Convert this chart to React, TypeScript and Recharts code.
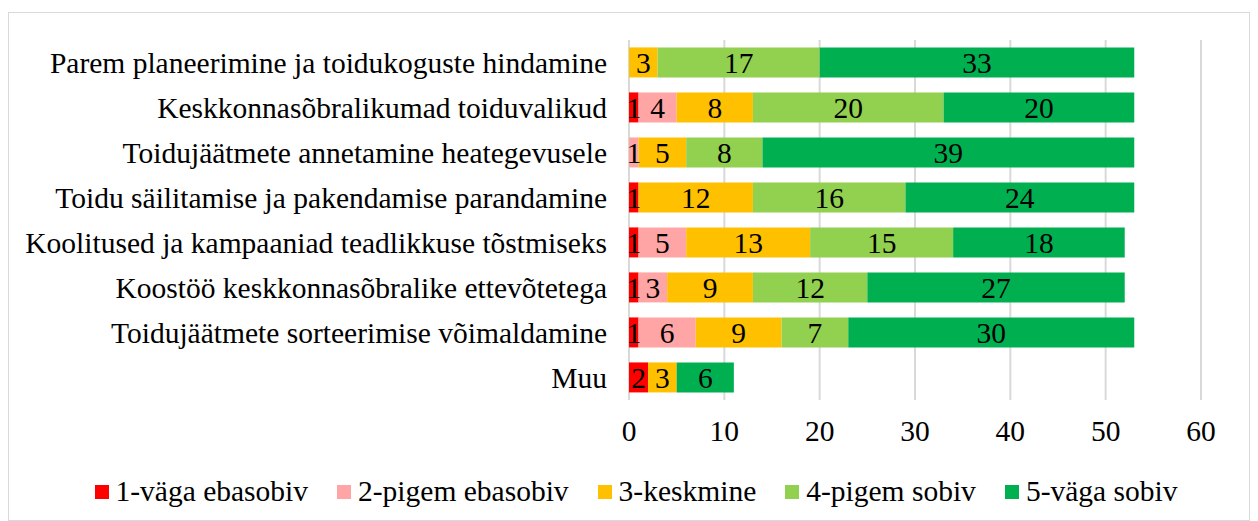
import { BarChart, Bar, XAxis, YAxis, CartesianGrid, LabelList } from 'recharts'

const categories = [
  'Parem planeerimine ja toidukoguste hindamine',
  'Keskkonnasõbralikumad toiduvalikud',
  'Toidujäätmete annetamine heategevusele',
  'Toidu säilitamise ja pakendamise parandamine',
  'Koolitused ja kampaaniad teadlikkuse tõstmiseks',
  'Koostöö keskkonnasõbralike ettevõtetega',
  'Toidujäätmete sorteerimise võimaldamine',
  'Muu',
]

const vaga_ebasobiv = [0, 1, 0, 1, 1, 1, 1, 2]
const pigem_ebasobiv = [0, 4, 1, 0, 5, 3, 6, 0]
const keskmine = [3, 8, 5, 12, 13, 9, 9, 3]
const pigem_sobiv = [17, 20, 8, 16, 15, 12, 7, 0]
const vaga_sobiv = [33, 20, 39, 24, 18, 27, 30, 6]

const xTicks = [0, 10, 20, 30, 40, 50, 60]

const SERIES = [
  { key: 's1', name: '1-väga ebasobiv', color: '#FF0000', values: vaga_ebasobiv },
  { key: 's2', name: '2-pigem ebasobiv', color: '#FFA5A5', values: pigem_ebasobiv },
  { key: 's3', name: '3-keskmine', color: '#FFC000', values: keskmine },
  { key: 's4', name: '4-pigem sobiv', color: '#92D050', values: pigem_sobiv },
  { key: 's5', name: '5-väga sobiv', color: '#00B050', values: vaga_sobiv },
]

const data = categories.map((name, i) => {
  const row: Record<string, string | number> = { name }
  SERIES.forEach(s => { row[s.key] = s.values[i] })
  return row
})

const FONT = '"Liberation Serif", "Times New Roman", serif'
const FS = 29.5

function ChartLegend() {
  return (
    <div style={{ display: 'flex', justifyContent: 'center', gap: 29, fontFamily: FONT, fontSize: FS, color: '#000', lineHeight: 1 }}>
      {SERIES.map(s => (
        <div key={s.key} style={{ display: 'flex', alignItems: 'center' }}>
          <span style={{ width: 14, height: 14, background: s.color, display: 'inline-block', marginRight: 7 }} />
          <span>{s.name}</span>
        </div>
      ))}
    </div>
  )
}

export default function App() {
  return (
    <div style={{ position: 'absolute', left: 0, top: 0, width: 1258, height: 521, background: '#fff' }}>
      <div style={{ position: 'absolute', left: 8, top: 12, width: 1242, height: 509, border: '1px solid #d9d9d9', boxSizing: 'border-box' }} />
      <div style={{ position: 'absolute', left: 0, top: 0 }}>
        <BarChart
          width={1258}
          height={450}
          data={data}
          layout="vertical"
          barCategoryGap="16.5%"
          margin={{ top: 40, right: 57, left: 0, bottom: 0 }}
        >
          <CartesianGrid horizontal={false} stroke="#d9d9d9" strokeWidth={2} />
          <XAxis
            type="number"
            domain={[0, 60]}
            ticks={xTicks}
            axisLine={false}
            tickLine={false}
            tickMargin={14}
            height={50}
            tick={{ fill: '#000', fontSize: FS, fontFamily: FONT }}
          />
          <YAxis
            type="category"
            dataKey="name"
            width={629}
            axisLine={false}
            tickLine={false}
            tickMargin={16}
            interval={0}
            tick={{ fill: '#000', fontSize: FS, fontFamily: FONT }}
          />
          {SERIES.map(s => (
            <Bar key={s.key} dataKey={s.key} name={s.name} stackId="a" fill={s.color} isAnimationActive={false}>
              <LabelList
                dataKey={s.key}
                position="center"
                fill="#000"
                fontSize={FS}
                fontFamily={FONT}
                formatter={(v: any) => (v ? v : '')}
              />
            </Bar>
          ))}
        </BarChart>
      </div>
      <div style={{ position: 'absolute', left: 7, top: 477, width: 1258 }}>
        <ChartLegend />
      </div>
    </div>
  )
}
